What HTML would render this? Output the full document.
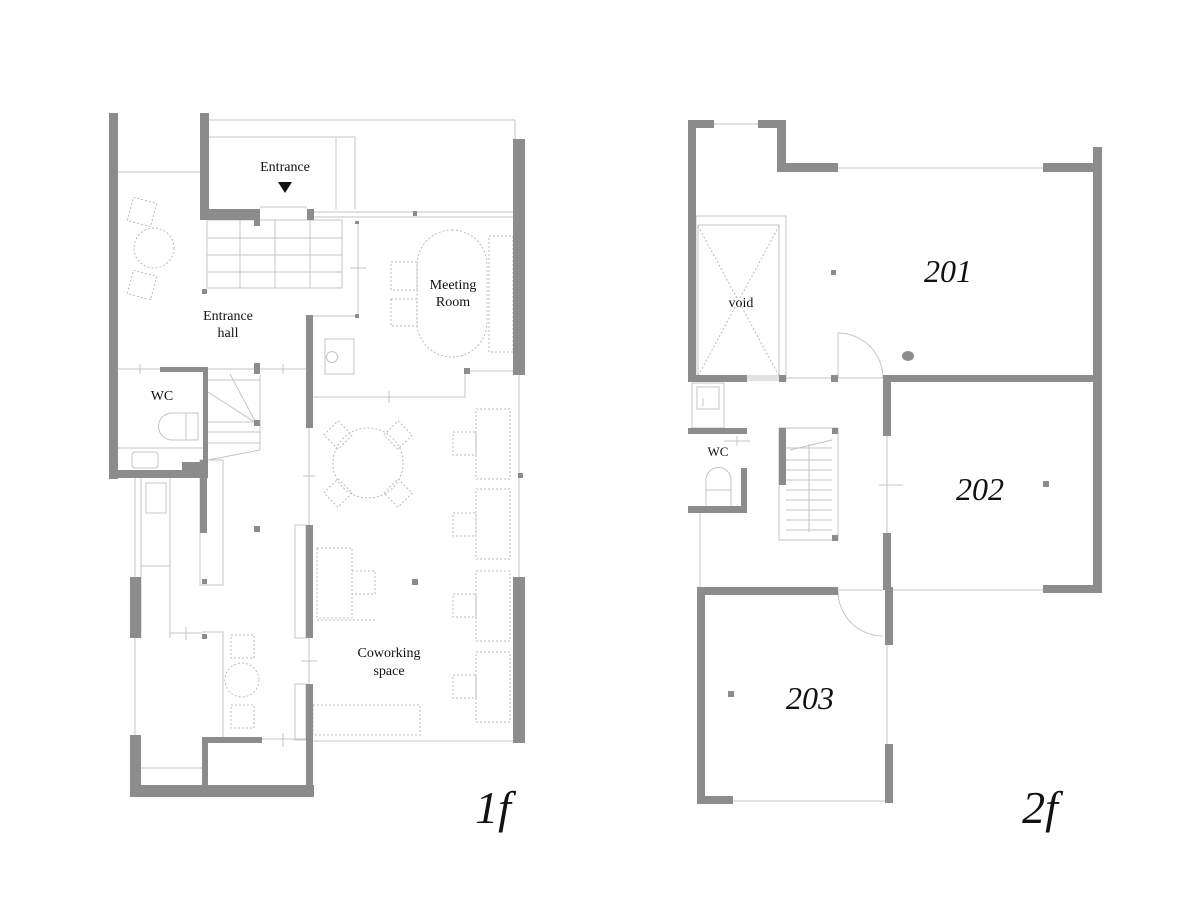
<!DOCTYPE html>
<html><head><meta charset="utf-8"><style>
html,body{margin:0;padding:0;background:#fff;}
svg{display:block;}
text{font-family:"Liberation Serif",serif;fill:#111;}
</style></head><body>
<svg width="1200" height="905" viewBox="0 0 1200 905" xmlns="http://www.w3.org/2000/svg">
<g stroke="#c4c4c4" stroke-width="1" fill="none">
<!-- 1F thin lines -->
<line x1="209" y1="120" x2="515" y2="120"/>
<line x1="515" y1="120" x2="515" y2="139"/>
<polyline points="209,137 355,137 355,209"/>
<line x1="336" y1="137" x2="336" y2="209"/>
<line x1="118" y1="172" x2="200" y2="172"/>
<line x1="314" y1="212" x2="515" y2="212"/>
<line x1="314" y1="217" x2="515" y2="217"/>
<line x1="260" y1="207" x2="307" y2="207"/>
<!-- stair grid -->
<rect x="207" y="220" width="135" height="68"/>
<line x1="240" y1="220" x2="240" y2="288"/><line x1="275" y1="220" x2="275" y2="288"/><line x1="310" y1="220" x2="310" y2="288"/>
<line x1="207" y1="238" x2="342" y2="238"/><line x1="207" y1="255" x2="342" y2="255"/><line x1="207" y1="272" x2="342" y2="272"/>
<line x1="358" y1="222" x2="358" y2="316"/><line x1="350" y1="268" x2="366" y2="268"/>
<line x1="313" y1="316" x2="358" y2="316"/>
<!-- WC / stair area -->
<line x1="118" y1="369" x2="306" y2="369"/><line x1="140" y1="364" x2="140" y2="374"/><line x1="283" y1="364" x2="283" y2="374"/>
<line x1="208" y1="380" x2="260" y2="380"/>
<line x1="230" y1="374" x2="256" y2="423"/><line x1="208" y1="392" x2="256" y2="423"/>
<line x1="208" y1="422" x2="260" y2="422"/><line x1="208" y1="432" x2="260" y2="432"/><line x1="208" y1="443" x2="260" y2="443"/>
<line x1="208" y1="460" x2="260" y2="450"/>
<line x1="260" y1="375" x2="260" y2="450"/>
<line x1="118" y1="448" x2="203" y2="448"/>
<path d="M172 413 h26 v27 h-26 a13 13 0 0 1 0-27z"/><line x1="186" y1="413" x2="186" y2="440"/>
<rect x="132" y="452" width="26" height="16" rx="3"/>
<!-- kitchen left -->
<line x1="135" y1="478" x2="135" y2="577"/><line x1="141" y1="478" x2="141" y2="638"/>
<line x1="170" y1="478" x2="170" y2="638"/><line x1="141" y1="566" x2="170" y2="566"/>
<rect x="146" y="483" width="20" height="30"/>
<line x1="135" y1="638" x2="135" y2="736"/>
<line x1="170" y1="633" x2="202" y2="633"/><line x1="186" y1="627" x2="186" y2="640"/>
<line x1="141" y1="768" x2="202" y2="768"/>
<!-- central column -->
<rect x="200" y="460" width="23" height="125"/>
<polyline points="202,632 223,632 223,737"/>
<line x1="262" y1="739" x2="306" y2="739"/><line x1="283" y1="733" x2="283" y2="747"/>
<rect x="295" y="525" width="11" height="113"/>
<rect x="295" y="684" width="11" height="56"/>
<line x1="309" y1="428" x2="309" y2="525"/><line x1="303" y1="476" x2="315" y2="476"/>
<line x1="309" y1="638" x2="309" y2="684"/><line x1="301" y1="661" x2="317" y2="661"/>
<!-- meeting room -->
<rect x="325" y="339" width="29" height="35"/>
<circle cx="332" cy="357" r="5.5"/>
<polyline points="313,397 465,397 465,373"/><line x1="389" y1="391" x2="389" y2="403"/>
<line x1="467" y1="371" x2="513" y2="371"/>
<line x1="519" y1="375" x2="519" y2="577"/>
<line x1="313" y1="741" x2="513" y2="741"/>
</g>
<g stroke="#bbb" stroke-width="1" fill="none" stroke-dasharray="2,2">
<rect x="417" y="230" width="70" height="127" rx="35"/>
<rect x="391" y="262" width="26" height="28"/><rect x="391" y="299" width="26" height="27"/>
<rect x="489" y="236" width="24" height="116"/>
<!-- lounge left -->
<rect x="130" y="200" width="24" height="24" transform="rotate(15 142 212)"/>
<circle cx="154" cy="248" r="20"/>
<rect x="130" y="273" width="24" height="24" transform="rotate(15 142 285)"/>
<rect x="231" y="635" width="23" height="23"/><circle cx="242" cy="680" r="17"/><rect x="231" y="705" width="23" height="23"/>
<!-- coworking -->
<circle cx="368" cy="463" r="35"/>
<rect x="328" y="425" width="20" height="20" transform="rotate(45 338 435)"/>
<rect x="388" y="425" width="20" height="20" transform="rotate(45 398 435)"/>
<rect x="328" y="483" width="20" height="20" transform="rotate(45 338 493)"/>
<rect x="388" y="483" width="20" height="20" transform="rotate(45 398 493)"/>
<rect x="317" y="548" width="35" height="70"/><rect x="352" y="571" width="23" height="23"/>
<line x1="317" y1="620" x2="375" y2="620"/>
<rect x="313" y="705" width="107" height="30"/>
<g>
<rect x="476" y="409" width="34" height="70"/><rect x="453" y="432" width="23" height="23"/>
<rect x="476" y="489" width="34" height="70"/><rect x="453" y="513" width="23" height="23"/>
<rect x="476" y="571" width="34" height="70"/><rect x="453" y="594" width="23" height="23"/>
<rect x="476" y="652" width="34" height="70"/><rect x="453" y="675" width="23" height="23"/>
</g>
<!-- 2F void diagonals -->
<line x1="698" y1="226" x2="779" y2="376"/><line x1="779" y1="226" x2="698" y2="376"/>
</g>
<!-- walls 1F -->
<g fill="#8c8c8c">
<rect x="109" y="113" width="9" height="366"/>
<rect x="109" y="470" width="78" height="8"/>
<rect x="182" y="462" width="26" height="16"/>
<rect x="200" y="113" width="9" height="107"/>
<rect x="200" y="209" width="60" height="11"/>
<rect x="254" y="220" width="6" height="6"/>
<rect x="307" y="209" width="7" height="11"/>
<rect x="413" y="211" width="4" height="5"/>
<rect x="355" y="221" width="4" height="3"/>
<rect x="513" y="139" width="12" height="236"/>
<rect x="202" y="289" width="5" height="5"/>
<rect x="306" y="315" width="7" height="113"/>
<rect x="355" y="314" width="4" height="4"/>
<rect x="160" y="367" width="48" height="5"/>
<rect x="203" y="367" width="5" height="103"/>
<rect x="200" y="460" width="7" height="73"/>
<rect x="254" y="363" width="6" height="11"/>
<rect x="254" y="420" width="6" height="6"/>
<rect x="464" y="368" width="6" height="6"/>
<rect x="202" y="579" width="5" height="5"/>
<rect x="202" y="634" width="5" height="5"/>
<rect x="254" y="526" width="6" height="6"/>
<rect x="412" y="579" width="6" height="6"/>
<rect x="518" y="473" width="5" height="5"/>
<rect x="306" y="525" width="7" height="113"/>
<rect x="306" y="684" width="7" height="113"/>
<rect x="130" y="577" width="11" height="61"/>
<rect x="130" y="735" width="11" height="62"/>
<rect x="130" y="785" width="184" height="12"/>
<rect x="202" y="737" width="60" height="6"/>
<rect x="202" y="737" width="6" height="60"/>
<rect x="513" y="577" width="12" height="166"/>
</g>
<polygon points="278,182 292,182 285,193" fill="#111"/>
<text x="285" y="171" font-size="14" text-anchor="middle">Entrance</text>
<text x="228" y="320" font-size="14" text-anchor="middle">Entrance</text>
<text x="228" y="337" font-size="14" text-anchor="middle">hall</text>
<text x="453" y="289" font-size="14" text-anchor="middle">Meeting</text>
<text x="453" y="306" font-size="14" text-anchor="middle">Room</text>
<text x="162" y="400" font-size="14" text-anchor="middle">WC</text>
<text x="389" y="657" font-size="14" text-anchor="middle">Coworking</text>
<text x="389" y="675" font-size="14" text-anchor="middle">space</text>
<text x="493" y="823" font-size="46" font-style="italic" text-anchor="middle">1f</text>

<!-- 2F thin -->
<g stroke="#c4c4c4" stroke-width="1" fill="none">
<line x1="714" y1="124" x2="758" y2="124"/>
<line x1="838" y1="168" x2="1043" y2="168"/>
<rect x="696" y="216" width="90" height="164"/>
<rect x="698" y="225" width="81" height="151"/>
<line x1="747" y1="378" x2="883" y2="378"/>
<path d="M838 378 V333 A45 45 0 0 1 883 378"/>
<rect x="692" y="383" width="32" height="45"/>
<rect x="697" y="387" width="22" height="22"/>
<line x1="703" y1="398" x2="703" y2="406"/>
<line x1="724" y1="441" x2="750" y2="441"/><line x1="737" y1="436" x2="737" y2="446"/>
<path d="M706 506 v-26 a12 12 0 0 1 25 0 v26"/><line x1="706" y1="490" x2="731" y2="490"/>
<rect x="779" y="428" width="59" height="112"/>
<line x1="786" y1="448" x2="832" y2="448"/>
<line x1="786" y1="460" x2="832" y2="460"/><line x1="786" y1="470" x2="832" y2="470"/><line x1="786" y1="480" x2="832" y2="480"/><line x1="786" y1="490" x2="832" y2="490"/><line x1="786" y1="500" x2="832" y2="500"/><line x1="786" y1="510" x2="832" y2="510"/><line x1="786" y1="520" x2="832" y2="520"/><line x1="786" y1="530" x2="832" y2="530"/>
<line x1="809" y1="444" x2="809" y2="532"/>
<line x1="790" y1="450" x2="832" y2="440"/>
<line x1="887" y1="435" x2="887" y2="533"/><line x1="879" y1="485" x2="903" y2="485"/>
<line x1="891" y1="590" x2="1043" y2="590"/>
<line x1="887" y1="645" x2="887" y2="744"/>
<line x1="700" y1="513" x2="700" y2="587"/>
<line x1="838" y1="590" x2="883" y2="590"/>
<path d="M838 591 A45 45 0 0 0 883 636"/>
<line x1="733" y1="801" x2="885" y2="801"/>
</g>
<g fill="#8c8c8c">
<rect x="688" y="120" width="8" height="262"/>
<rect x="688" y="120" width="26" height="8"/>
<rect x="758" y="120" width="28" height="8"/>
<rect x="777" y="120" width="9" height="52"/>
<rect x="777" y="163" width="61" height="9"/>
<rect x="1043" y="163" width="59" height="9"/>
<rect x="1093" y="147" width="9" height="446"/>
<rect x="688" y="375" width="59" height="7"/>
<rect x="779" y="375" width="7" height="7"/>
<rect x="831" y="375" width="7" height="7"/>
<rect x="883" y="375" width="219" height="7"/>
<rect x="883" y="375" width="8" height="61"/>
<rect x="883" y="533" width="8" height="57"/>
<rect x="885" y="587" width="8" height="58"/>
<rect x="885" y="744" width="8" height="59"/>
<rect x="1043" y="585" width="59" height="8"/>
<rect x="697" y="587" width="8" height="217"/>
<rect x="697" y="587" width="141" height="8"/>
<rect x="697" y="796" width="36" height="8"/>
<rect x="688" y="428" width="59" height="6"/>
<rect x="741" y="468" width="6" height="45"/>
<rect x="688" y="506" width="59" height="7"/>
<rect x="779" y="428" width="7" height="57"/>
<rect x="832" y="428" width="6" height="6"/>
<rect x="832" y="535" width="6" height="6"/>
<rect x="831" y="270" width="5" height="5"/>
<rect x="1043" y="481" width="6" height="6"/>
<rect x="728" y="691" width="6" height="6"/>
<ellipse cx="908" cy="356" rx="6" ry="5"/>
</g>
<text x="741" y="307" font-size="14" text-anchor="middle">void</text>
<text x="718" y="456" font-size="13" text-anchor="middle">WC</text>
<text x="948" y="282" font-size="32" font-style="italic" text-anchor="middle">201</text>
<text x="980" y="500" font-size="32" font-style="italic" text-anchor="middle">202</text>
<text x="810" y="709" font-size="32" font-style="italic" text-anchor="middle">203</text>
<text x="1040" y="823" font-size="46" font-style="italic" text-anchor="middle">2f</text>
</svg>
</body></html>
